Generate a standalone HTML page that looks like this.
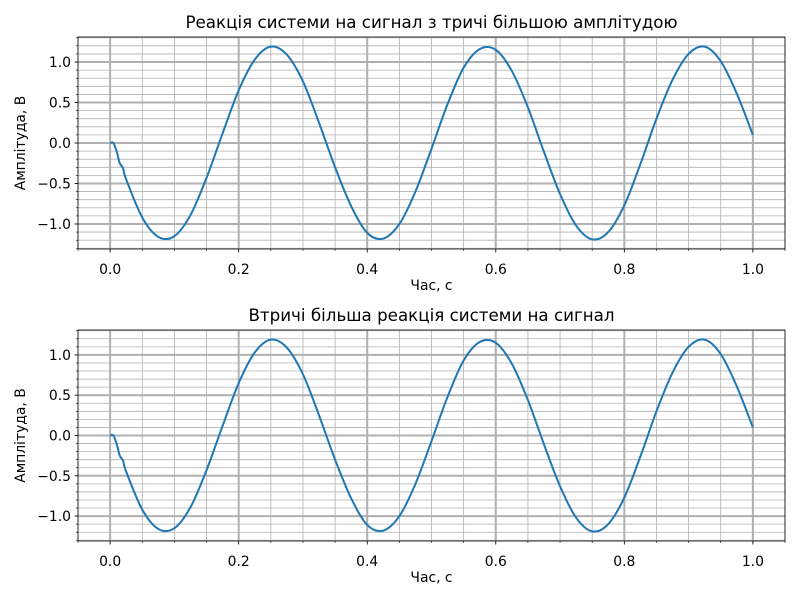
<!DOCTYPE html>
<html><head><meta charset="utf-8">
<style>
body{margin:0;background:#fff;}
svg{display:block;font-family:"DejaVu Sans","Liberation Sans",sans-serif;}
</style></head>
<body>
<svg id="fig" width="800" height="600" viewBox="0 0 800 600" xmlns="http://www.w3.org/2000/svg"></svg>
<script>
const timeValues = [0,0.005,0.01,0.015,0.02,0.025,0.05,0.075,0.1,0.125,0.15,0.175,0.2,0.225,0.25,0.275,0.3,0.325,0.35,0.375,0.4,0.425,0.45,0.475,0.5,0.525,0.55,0.575,0.6,0.625,0.65,0.675,0.7,0.725,0.75,0.775,0.8,0.825,0.85,0.875,0.9,0.925,0.95,0.975,1.0];
const responseValues = [0,0,-0.1,-0.25,-0.31,-0.45,-0.92,-1.16,-1.15,-0.89,-0.43,0.12,0.65,1.03,1.19,1.09,0.76,0.25,-0.30,-0.78,-1.11,-1.18,-1.00,-0.60,-0.07,0.48,0.93,1.16,1.15,0.89,0.44,-0.11,-0.63,-1.02,-1.19,-1.10,-0.77,-0.26,0.30,0.78,1.10,1.19,1.01,0.61,0.1];
const xTicks = [0,0.2,0.4,0.6,0.8,1.0];
const xTickLabels = ["0.0","0.2","0.4","0.6","0.8","1.0"];
const yTicks = [-1,-0.5,0,0.5,1];
const yTickLabels = ["\u22121.0","\u22120.5","0.0","0.5","1.0"];
const titles = ["Реакція системи на сигнал з тричі більшою амплітудою","Втричі більша реакція системи на сигнал"];

const NS="http://www.w3.org/2000/svg";
const svg=document.getElementById('fig');
function mk(tag,attrs,parent){const e=document.createElementNS(NS,tag);for(const k in attrs)e.setAttribute(k,attrs[k]);(parent||svg).appendChild(e);return e;}

function drawPanel(idx,top,bottom){
  const L=78,R=785,xmin=-0.05,xmax=1.05,ymin=-1.309,ymax=1.309;
  const sx=v=>L+(v-xmin)/(xmax-xmin)*(R-L);
  const sy=v=>bottom-(v-ymin)/(ymax-ymin)*(bottom-top);
  const g=mk('g',{});
  
  
  for(let i=-1;i<=21;i++){const v=i*0.05;if(v<xmin||v>xmax)continue;
    const l=mk('line',{x1:sx(v),x2:sx(v),y1:top,y2:bottom,stroke:'#b0b0b0','stroke-width':0.8},g);
    }
  for(let i=-13;i<=13;i++){const v=i*0.1;if(v<ymin||v>ymax)continue;
    const l=mk('line',{x1:L,x2:R,y1:sy(v),y2:sy(v),stroke:'#b0b0b0','stroke-width':0.8},g);
    
    mk('line',{x1:L-2,x2:L,y1:sy(v),y2:sy(v),stroke:'#000','stroke-width':0.6},g);}
  for(let i=-1;i<=21;i++){const v=i*0.05;if(v<xmin||v>xmax)continue;
    mk('line',{x1:sx(v),x2:sx(v),y1:bottom,y2:bottom+2,stroke:'#000','stroke-width':0.6},g);}
  xTicks.forEach((v,i)=>{
    const l=mk('line',{x1:sx(v),x2:sx(v),y1:top,y2:bottom,stroke:'#b0b0b0','stroke-width':2},g);
    
    mk('line',{x1:sx(v),x2:sx(v),y1:bottom,y2:bottom+3.5,stroke:'#000','stroke-width':0.8},g);
    const t=mk('text',{x:sx(v),y:bottom+25,'font-size':13.9,'text-anchor':'middle',fill:'#000'},g);t.textContent=xTickLabels[i];
    
  });
  yTicks.forEach((v,i)=>{
    const l=mk('line',{x1:L,x2:R,y1:sy(v),y2:sy(v),stroke:'#b0b0b0','stroke-width':2},g);
    
    mk('line',{x1:L-3.5,x2:L,y1:sy(v),y2:sy(v),stroke:'#000','stroke-width':0.8},g);
    const t=mk('text',{x:L-7,y:sy(v)+5,'font-size':13.9,'text-anchor':'end',fill:'#000'},g);t.textContent=yTickLabels[i];
    
  });
  const pts=timeValues.map((t,i)=>[sx(t),sy(responseValues[i])]);
  let d='M'+pts[0][0]+','+pts[0][1];
  for(let i=0;i<pts.length-1;i++){
    const p0=pts[Math.max(0,i-1)],p1=pts[i],p2=pts[i+1],p3=pts[Math.min(pts.length-1,i+2)];
    const c1=[p1[0]+(p2[0]-p0[0])/6,p1[1]+(p2[1]-p0[1])/6];
    const c2=[p2[0]-(p3[0]-p1[0])/6,p2[1]-(p3[1]-p1[1])/6];
    d+=' C'+c1+' '+c2+' '+p2;
  }
  const path=mk('path',{d:d,fill:'none',stroke:'#1f77b4','stroke-width':2,'stroke-linejoin':'round'},g);
  
  const fr=mk('rect',{x:L,y:top,width:R-L,height:bottom-top,fill:'none',stroke:'#000','stroke-width':0.8},g);
  
  const ti=mk('text',{x:(L+R)/2,y:top-9,'font-size':16.7,'text-anchor':'middle',fill:'#000'},g);ti.textContent=titles[idx];
  
  const xl=mk('text',{x:(L+R)/2,y:bottom+41,'font-size':13.9,'text-anchor':'middle',fill:'#000'},g);xl.textContent='Час, с';
  
  const cy=(top+bottom)/2;
  const yl=mk('text',{x:cy,y:0,'font-size':13.9,'text-anchor':'middle',fill:'#000',transform:'translate(25,0) rotate(-90 0 '+cy+') translate(-'+cy+','+cy+')'},g);
  yl.setAttribute('transform','translate(25 '+cy+') rotate(-90)');
  yl.setAttribute('x',0);yl.setAttribute('y',0);
  yl.textContent='Амплітуда, В';
  
}
drawPanel(0,37,249);
drawPanel(1,330,541);
</script>
</body></html>
